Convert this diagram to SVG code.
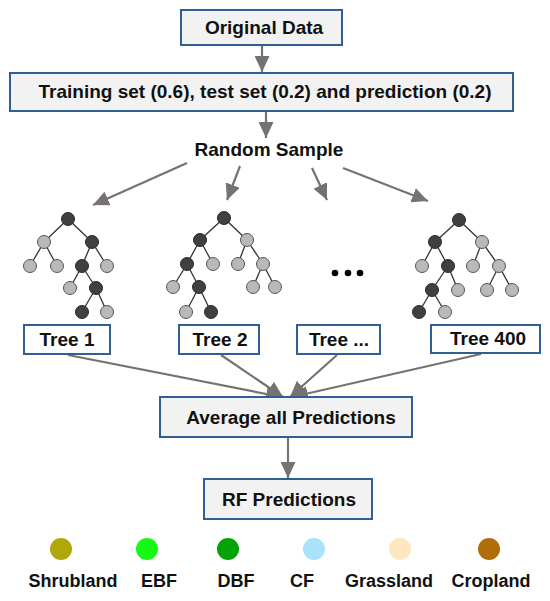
<svg xmlns="http://www.w3.org/2000/svg" width="550" height="601" viewBox="0 0 550 601">
<style>
.box{fill:#f2f2f2;stroke:#2f5f93;stroke-width:2}
.tbox{fill:#ffffff;stroke:#2f5f93;stroke-width:2}
.lbl{font-family:"Liberation Sans",Arial,sans-serif;font-weight:bold;font-size:19px;fill:#111;text-anchor:middle}
.leg{font-family:"Liberation Sans",Arial,sans-serif;font-weight:bold;font-size:18px;fill:#111;text-anchor:middle}
.conn{stroke:#777272;stroke-width:2.2;fill:none;marker-end:url(#ah)}
.edge{stroke:#333;stroke-width:1.3}
.dk{fill:#404040;stroke:#2a2a2a;stroke-width:1}
.lt{fill:#b9b9b9;stroke:#555;stroke-width:1}
</style>
<defs>
<marker id="ah" markerUnits="userSpaceOnUse" markerWidth="17" markerHeight="15" refX="16" refY="7.5" orient="auto">
<path d="M0,0 L16,7.5 L0,15 Z" fill="#777272"/>
</marker>
</defs>
<rect width="550" height="601" fill="#ffffff"/>

<g id="connectors">
<line class="conn" x1="262" y1="46" x2="262" y2="72"/>
<line class="conn" x1="266" y1="111" x2="266" y2="138"/>
<line class="conn" x1="187" y1="163" x2="93" y2="205"/>
<line class="conn" x1="240" y1="166" x2="227" y2="200"/>
<line class="conn" x1="312" y1="168" x2="327" y2="200"/>
<line class="conn" x1="343" y1="168" x2="428" y2="201"/>
<line class="conn" x1="68" y1="355" x2="282" y2="397"/>
<line class="conn" x1="221" y1="355" x2="283" y2="397"/>
<line class="conn" x1="337" y1="355" x2="290" y2="397"/>
<line class="conn" x1="481" y1="354" x2="292" y2="397"/>
<line class="conn" x1="288" y1="438" x2="288" y2="478"/>
</g>

<g id="original-data">
<rect class="box" x="181" y="10" width="161" height="35"/>
<text class="lbl" x="264" y="34">Original Data</text>
</g>
<g id="training-set">
<rect class="box" x="10" y="73" width="503" height="38"/>
<text class="lbl" x="265" y="98">Training set (0.6), test set (0.2) and prediction (0.2)</text>
</g>
<g id="random-sample">
<text class="lbl" x="269" y="156">Random Sample</text>
</g>

<g id="tree1-graph">
<g class="edge">
<line x1="68" y1="219" x2="44" y2="242"/><line x1="68" y1="219" x2="92" y2="242"/>
<line x1="44" y1="242" x2="30" y2="266"/><line x1="44" y1="242" x2="57" y2="266"/>
<line x1="92" y1="242" x2="82" y2="266"/><line x1="92" y1="242" x2="107" y2="266"/>
<line x1="82" y1="266" x2="70" y2="288"/><line x1="82" y1="266" x2="96" y2="288"/>
<line x1="96" y1="288" x2="82" y2="312"/><line x1="96" y1="288" x2="107" y2="312"/>
</g>
<circle class="dk" cx="68" cy="219" r="6.5"/>
<circle class="lt" cx="44" cy="242" r="6.5"/><circle class="dk" cx="92" cy="242" r="6.5"/>
<circle class="lt" cx="30" cy="266" r="6.5"/><circle class="lt" cx="57" cy="266" r="6.5"/>
<circle class="dk" cx="82" cy="266" r="6.5"/><circle class="lt" cx="107" cy="266" r="6.5"/>
<circle class="lt" cx="70" cy="288" r="6.5"/><circle class="dk" cx="96" cy="288" r="6.5"/>
<circle class="dk" cx="82" cy="312" r="6.5"/><circle class="lt" cx="107" cy="312" r="6.5"/>
</g>

<g id="tree2-graph">
<g class="edge">
<line x1="224" y1="218" x2="200" y2="240"/><line x1="224" y1="218" x2="247" y2="240"/>
<line x1="200" y1="240" x2="187" y2="264"/><line x1="200" y1="240" x2="213" y2="264"/>
<line x1="247" y1="240" x2="238" y2="264"/><line x1="247" y1="240" x2="263" y2="264"/>
<line x1="187" y1="264" x2="173" y2="287"/><line x1="187" y1="264" x2="199" y2="287"/>
<line x1="263" y1="264" x2="253" y2="287"/><line x1="263" y1="264" x2="275" y2="287"/>
<line x1="199" y1="287" x2="186" y2="312"/><line x1="199" y1="287" x2="211" y2="312"/>
</g>
<circle class="dk" cx="224" cy="218" r="6.5"/>
<circle class="dk" cx="200" cy="240" r="6.5"/><circle class="lt" cx="247" cy="240" r="6.5"/>
<circle class="dk" cx="187" cy="264" r="6.5"/><circle class="lt" cx="213" cy="264" r="6.5"/>
<circle class="lt" cx="238" cy="264" r="6.5"/><circle class="lt" cx="263" cy="264" r="6.5"/>
<circle class="lt" cx="173" cy="287" r="6.5"/><circle class="dk" cx="199" cy="287" r="6.5"/>
<circle class="lt" cx="253" cy="287" r="6.5"/><circle class="lt" cx="275" cy="287" r="6.5"/>
<circle class="lt" cx="186" cy="312" r="6.5"/><circle class="dk" cx="211" cy="312" r="6.5"/>
</g>

<g id="ellipsis">
<circle cx="335" cy="273" r="3.3" fill="#000"/>
<circle cx="348" cy="273" r="3.3" fill="#000"/>
<circle cx="360" cy="273" r="3.3" fill="#000"/>
</g>

<g id="tree400-graph">
<g class="edge">
<line x1="459" y1="220" x2="435" y2="242"/><line x1="459" y1="220" x2="482" y2="242"/>
<line x1="435" y1="242" x2="422" y2="266"/><line x1="435" y1="242" x2="448" y2="266"/>
<line x1="482" y1="242" x2="473" y2="266"/><line x1="482" y1="242" x2="499" y2="266"/>
<line x1="448" y1="266" x2="432" y2="290"/><line x1="448" y1="266" x2="458" y2="290"/>
<line x1="499" y1="266" x2="487" y2="290"/><line x1="499" y1="266" x2="512" y2="290"/>
<line x1="432" y1="290" x2="419" y2="312"/><line x1="432" y1="290" x2="445" y2="312"/>
</g>
<circle class="dk" cx="459" cy="220" r="6.5"/>
<circle class="dk" cx="435" cy="242" r="6.5"/><circle class="lt" cx="482" cy="242" r="6.5"/>
<circle class="lt" cx="422" cy="266" r="6.5"/><circle class="dk" cx="448" cy="266" r="6.5"/>
<circle class="lt" cx="473" cy="266" r="6.5"/><circle class="lt" cx="499" cy="266" r="6.5"/>
<circle class="dk" cx="432" cy="290" r="6.5"/><circle class="lt" cx="458" cy="290" r="6.5"/>
<circle class="lt" cx="487" cy="290" r="6.5"/><circle class="lt" cx="512" cy="290" r="6.5"/>
<circle class="dk" cx="419" cy="312" r="6.5"/><circle class="lt" cx="445" cy="312" r="6.5"/>
</g>

<g id="tree1">
<rect class="tbox" x="24" y="325" width="86" height="29"/>
<text class="lbl" x="67" y="346">Tree 1</text>
</g>
<g id="tree2">
<rect class="tbox" x="179" y="325" width="80" height="29"/>
<text class="lbl" x="220" y="346">Tree 2</text>
</g>
<g id="tree-dots">
<rect class="tbox" x="297" y="325" width="83" height="29"/>
<text class="lbl" x="339" y="346">Tree ...</text>
</g>
<g id="tree400">
<rect class="tbox" x="431" y="325" width="109" height="28"/>
<text class="lbl" x="488" y="345">Tree 400</text>
</g>

<g id="average">
<rect class="box" x="160" y="397" width="252" height="40"/>
<text class="lbl" x="291" y="424">Average all Predictions</text>
</g>
<g id="rf-predictions">
<rect class="box" x="204" y="479" width="168" height="40"/>
<text class="lbl" x="289" y="506">RF Predictions</text>
</g>

<g id="legend">
<circle cx="61" cy="549" r="11" fill="#b0a80a"/>
<circle cx="147" cy="549" r="11" fill="#14fa14"/>
<circle cx="228" cy="549" r="11" fill="#05a305"/>
<circle cx="314" cy="549" r="11" fill="#a8e2fb"/>
<circle cx="400" cy="549" r="11" fill="#fde6c0"/>
<circle cx="489" cy="549" r="11" fill="#b06d08"/>
<text class="leg" x="73" y="587">Shrubland</text>
<text class="leg" x="159" y="587">EBF</text>
<text class="leg" x="236" y="587">DBF</text>
<text class="leg" x="302" y="587">CF</text>
<text class="leg" x="389" y="587">Grassland</text>
<text class="leg" x="491" y="587">Cropland</text>
</g>
</svg>
